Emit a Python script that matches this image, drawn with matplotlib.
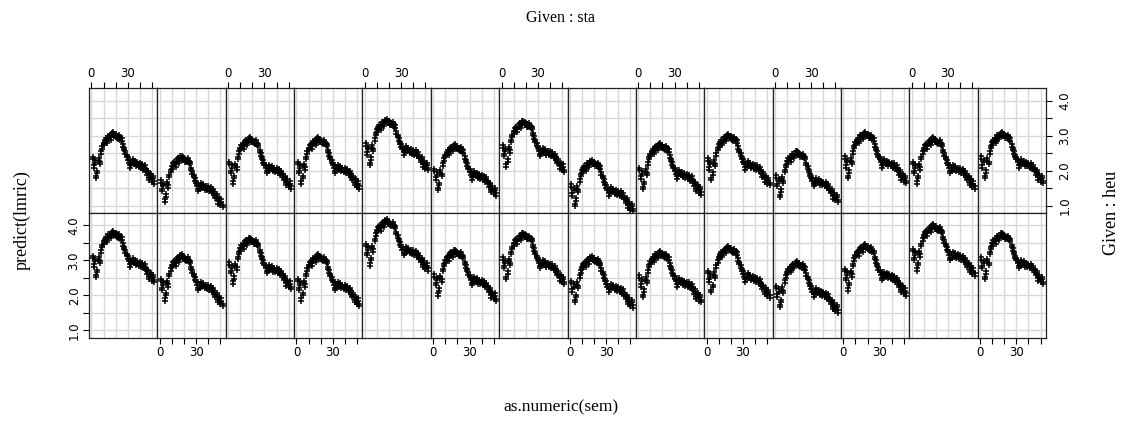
import numpy as np
import matplotlib.pyplot as plt

# weeks (sem) and shape of the predicted curve relative to its peak
sem = np.arange(1, 53)
week_profile = [-0.70, -0.95, -0.80, -1.25, -1.10, -0.75, -0.85, -0.55, -0.40, -0.30,
                -0.22, -0.18, -0.25, -0.10, -0.08, -0.14, -0.02, 0.00, -0.05, -0.06,
                -0.10, -0.12, -0.08, -0.15, -0.18, -0.35, -0.45, -0.55, -0.65, -0.72,
                -0.80, -0.95, -0.88, -0.78, -0.85, -0.82, -0.90, -0.86, -0.92, -0.88,
                -0.95, -0.90, -1.00, -0.95, -1.05, -1.15, -1.10, -1.30, -1.20, -1.35,
                -1.25, -1.40]
year_offset = [0.0, -0.07]

# peak level per station (sta, 14 columns) for each heu row
peak_top = [3.10, 2.43, 2.95, 2.95, 3.48, 2.76, 3.43, 2.31, 2.79, 3.05, 2.57, 3.11, 2.95, 3.11]
peak_bottom = [3.84, 3.17, 3.65, 3.17, 4.17, 3.31, 3.79, 3.12, 3.27, 3.41, 2.98, 3.46, 4.03, 3.79]

xticks = [0, 10, 20, 30, 40, 50]
xticklabels = ['0', '', '', '30', '', '']
yticks = [1.0, 1.5, 2.0, 2.5, 3.0, 3.5, 4.0]
yticklabels = ['1.0', '', '2.0', '', '3.0', '', '4.0']

W, H = 1123, 421
fig = plt.figure(figsize=(W / 100, H / 100), dpi=100)
axes = fig.subplots(2, 14, sharex=True, sharey=True,
                    gridspec_kw=dict(wspace=0, hspace=0))
fig.subplots_adjust(left=89 / W, right=1046 / W, top=1 - 88 / H, bottom=1 - 337.5 / H)

ncol = 14
for r, peaks in enumerate([peak_top, peak_bottom]):
    for c in range(ncol):
        ax = axes[r, c]
        for off in year_offset:
            y = peaks[c] + np.array(week_profile) + off
            ax.plot(sem, y, ls='none', marker='+', ms=5, mew=1.1, color='black')
        ax.set_xlim(-2, 54.5)
        ax.set_ylim(0.8, 4.36)
        ax.set_xticks(xticks)
        ax.set_xticklabels(xticklabels)
        ax.set_yticks(yticks)
        ax.set_yticklabels(yticklabels)
        ax.grid(True, color='#d8d8d8', lw=1.0)
        ax.set_axisbelow(True)
        for s in ax.spines.values():
            s.set_linewidth(0.9)
            s.set_color('#222222')
        ax.tick_params(direction='out', length=4, width=0.8, labelsize=8.5,
                       colors='black', pad=2,
                       bottom=False, labelbottom=False, top=False, labeltop=False,
                       left=False, labelleft=False, right=False, labelright=False)
        if r == 0 and c % 2 == 0:
            ax.tick_params(axis='x', top=True, labeltop=True)
        if r == 1 and c % 2 == 1:
            ax.tick_params(axis='x', bottom=True, labelbottom=True)
        if r == 1 and c == 0:
            ax.tick_params(axis='y', left=True, labelleft=True)
            for lbl in ax.get_yticklabels():
                lbl.set_rotation(90)
                lbl.set_va('center')
        if r == 0 and c == ncol - 1:
            ax.tick_params(axis='y', right=True, labelright=True, pad=5)
            for t in ax.yaxis.get_major_ticks():
                t.label2.set_rotation(90)
                t.label2.set_va('center')

serif = 'Liberation Serif'
fig.text(561 / W, 1 - 18 / H, 'Given : sta', ha='center', va='center',
         family=serif, fontsize=11.5)
fig.text(561 / W, 1 - 407 / H, 'as.numeric(sem)', ha='center', va='center',
         family=serif, fontsize=12.5)
fig.text(22 / W, 1 - 220 / H, 'predict(lmric)', ha='center', va='center',
         rotation=90, family=serif, fontsize=13)
fig.text(1111 / W, 1 - 213 / H, 'Given : heu', ha='center', va='center',
         rotation=90, family=serif, fontsize=13)

fig.savefig('out.png', dpi=100)
